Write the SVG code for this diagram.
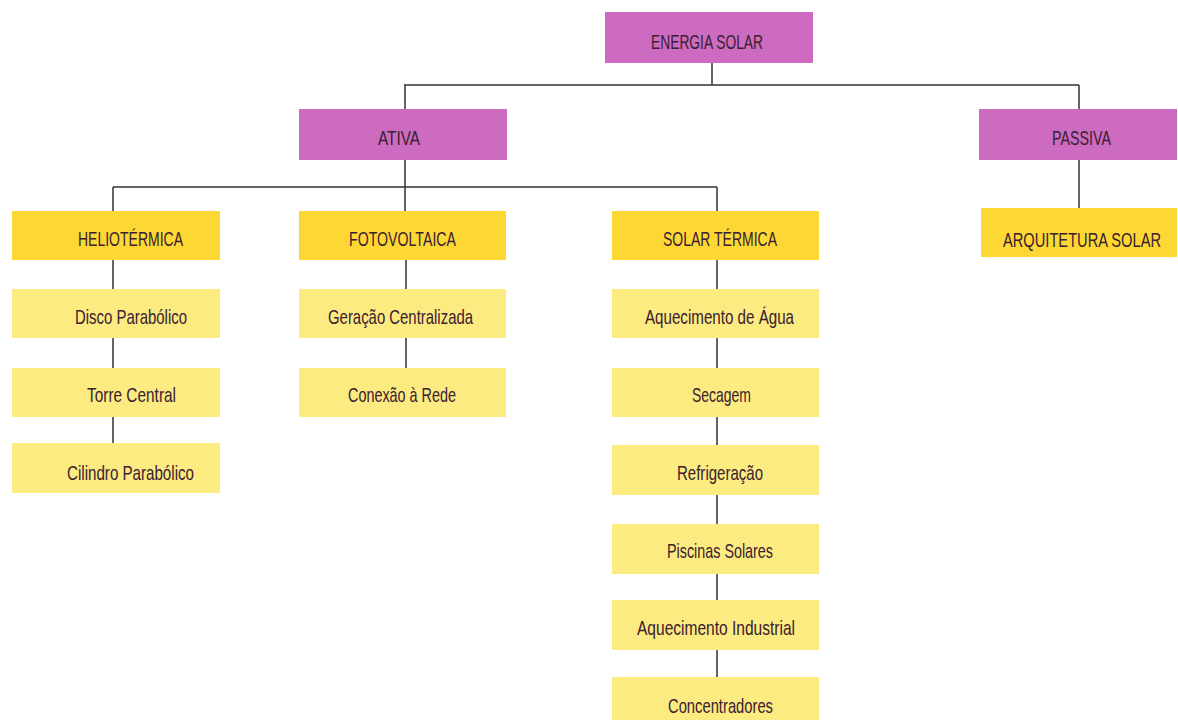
<svg xmlns="http://www.w3.org/2000/svg" width="1178" height="720" viewBox="0 0 1178 720">
<style>
.m{fill:#CC6BBF}
.d{fill:#FDD835}
.l{fill:#FCEB80}
text{font-family:"Liberation Sans",Arial,sans-serif;font-size:21px;fill:#3A2030}
.c{stroke:#333;stroke-width:1.5;fill:none}
</style>
<rect width="1178" height="720" fill="#fff"/>
<g id="connectors" class="c">
<path d="M712 63V85M404 85H1079M405 85V109M1079 85V109"/>
<path d="M405 160V211M113 187H717M113 187V211M717 187V211"/>
<path d="M1079 160V208"/>
<path d="M113 260V289M113 338V368M113 417V443"/>
<path d="M406 260V289M406 338V368"/>
<path d="M717 260V289M717 338V368M717 417V445M717 495V524M717 574V600M717 650V677"/>
</g>
<g id="energia-solar"><rect class="m" x="605" y="12" width="208" height="51"/><text x="651" y="49" textLength="112" lengthAdjust="spacingAndGlyphs">ENERGIA SOLAR</text></g>
<g id="ativa"><rect class="m" x="299" y="109" width="208" height="51"/><text x="378" y="145" textLength="42" lengthAdjust="spacingAndGlyphs">ATIVA</text></g>
<g id="passiva"><rect class="m" x="979" y="109" width="198" height="51"/><text x="1052" y="145" textLength="59" lengthAdjust="spacingAndGlyphs">PASSIVA</text></g>
<g id="arquitetura-solar"><rect class="d" x="981" y="208" width="196" height="49"/><text transform="translate(1003 247) scale(0.693 1)" x="0" y="0" textLength="228" lengthAdjust="spacingAndGlyphs">ARQUITETURA SOLAR</text></g>
<g id="heliotermica"><rect class="d" x="12" y="211" width="208" height="49"/><text x="78" y="246" textLength="105" lengthAdjust="spacingAndGlyphs">HELIOTÉRMICA</text></g>
<g id="fotovoltaica"><rect class="d" x="299" y="211" width="207" height="49"/><text x="349" y="246" textLength="107" lengthAdjust="spacingAndGlyphs">FOTOVOLTAICA</text></g>
<g id="solar-termica"><rect class="d" x="612" y="211" width="207" height="49"/><text x="663" y="246" textLength="114" lengthAdjust="spacingAndGlyphs">SOLAR TÉRMICA</text></g>
<g id="disco-parabolico"><rect class="l" x="12" y="289" width="208" height="49"/><text x="75" y="324" textLength="112" lengthAdjust="spacingAndGlyphs">Disco Parabólico</text></g>
<g id="torre-central"><rect class="l" x="12" y="368" width="208" height="49"/><text x="87" y="402" textLength="89" lengthAdjust="spacingAndGlyphs">Torre Central</text></g>
<g id="cilindro-parabolico"><rect class="l" x="12" y="443" width="208" height="50"/><text x="67" y="480" textLength="127" lengthAdjust="spacingAndGlyphs">Cilindro Parabólico</text></g>
<g id="geracao-centralizada"><rect class="l" x="299" y="289" width="207" height="49"/><text x="328" y="324" textLength="145" lengthAdjust="spacingAndGlyphs">Geração Centralizada</text></g>
<g id="conexao-rede"><rect class="l" x="299" y="368" width="207" height="49"/><text x="348" y="402" textLength="108" lengthAdjust="spacingAndGlyphs">Conexão à Rede</text></g>
<g id="aquecimento-agua"><rect class="l" x="612" y="289" width="207" height="49"/><text x="645" y="324" textLength="149" lengthAdjust="spacingAndGlyphs">Aquecimento de Água</text></g>
<g id="secagem"><rect class="l" x="612" y="368" width="207" height="49"/><text x="692" y="402" textLength="59" lengthAdjust="spacingAndGlyphs">Secagem</text></g>
<g id="refrigeracao"><rect class="l" x="612" y="445" width="207" height="50"/><text x="677" y="480" textLength="86" lengthAdjust="spacingAndGlyphs">Refrigeração</text></g>
<g id="piscinas-solares"><rect class="l" x="612" y="524" width="207" height="50"/><text x="667" y="558" textLength="106" lengthAdjust="spacingAndGlyphs">Piscinas Solares</text></g>
<g id="aquecimento-industrial"><rect class="l" x="612" y="600" width="207" height="50"/><text x="637" y="635" textLength="158" lengthAdjust="spacingAndGlyphs">Aquecimento Industrial</text></g>
<g id="concentradores"><rect class="l" x="612" y="677" width="207" height="43"/><text x="668" y="713" textLength="105" lengthAdjust="spacingAndGlyphs">Concentradores</text></g>
</svg>
